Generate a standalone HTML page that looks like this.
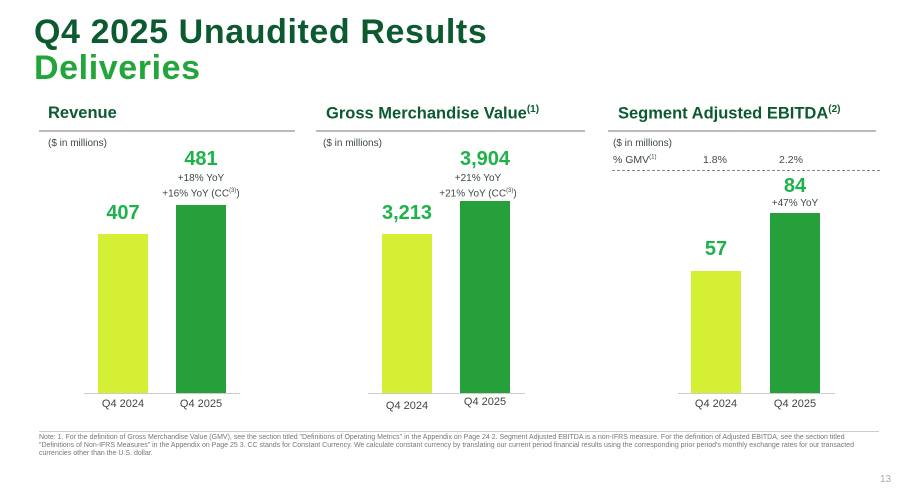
<!DOCTYPE html><html><head><style>
body{margin:0;width:903px;height:491px;background:#fff;position:relative;overflow:hidden;font-family:"Liberation Sans",sans-serif}
div{position:absolute}
.t{font-weight:bold;font-size:34px;left:34px;letter-spacing:0.6px}
.h{font-weight:bold;font-size:16.5px;color:#0c5a30;top:104px}
.hl{height:2px;background:#bbb;top:130px}
.sm{font-size:10px;color:#3d4a44}
.b1{background:#d4ef34}.b2{background:#25a03a}
.v{font-weight:bold;font-size:20px;color:#1db24a;text-align:center;width:100px}
.y{font-size:10px;color:#3d4a44;text-align:center;width:140px;line-height:13px}
.x{font-size:11px;color:#444;text-align:center;width:80px;top:398px}
.base{height:1px;background:#ccc;top:393px}
sup{font-size:6px}
</style></head><body>
<div class="t" style="top:13px;color:#0c5a30">Q4 2025 Unaudited Results</div>
<div class="t" style="top:49px;color:#22a53a">Deliveries</div>

<div class="h" style="left:48px">Revenue</div>
<div class="h" style="left:326px">Gross Merchandise Value<sup style="font-size:10px">(1)</sup></div>
<div class="h" style="left:618px">Segment Adjusted EBITDA<sup style="font-size:10px">(2)</sup></div>
<div class="hl" style="left:39px;width:256px"></div>
<div class="hl" style="left:316px;width:269px"></div>
<div class="hl" style="left:608px;width:268px"></div>
<div class="sm" style="left:48px;top:138px">($ in millions)</div>
<div class="sm" style="left:323px;top:138px">($ in millions)</div>
<div class="sm" style="left:613px;top:138px">($ in millions)</div>
<div class="sm" style="left:613px;top:154px;font-size:10.5px">% GMV<sup>(1)</sup></div>
<div class="sm" style="left:703px;top:154px;font-size:10.5px">1.8%</div>
<div class="sm" style="left:779px;top:154px;font-size:10.5px">2.2%</div>
<div style="left:612px;top:170px;width:268px;border-top:1px dashed #888"></div>

<div class="b1" style="left:98px;top:234px;width:50px;height:159px"></div>
<div class="b2" style="left:176px;top:205px;width:50px;height:188px"></div>
<div class="base" style="left:84px;width:156px"></div>
<div class="v" style="left:73px;top:202px">407</div>
<div class="v" style="left:151px;top:148px">481</div>
<div class="y" style="left:131px;top:172px">+18% YoY<br>+16% YoY (CC<sup>(3)</sup>)</div>
<div class="x" style="left:83px">Q4 2024</div>
<div class="x" style="left:161px">Q4 2025</div>

<div class="b1" style="left:382px;top:234px;width:50px;height:159px"></div>
<div class="b2" style="left:460px;top:201px;width:50px;height:192px"></div>
<div class="base" style="left:368px;width:157px"></div>
<div class="v" style="left:357px;top:202px">3,213</div>
<div class="v" style="left:435px;top:148px">3,904</div>
<div class="y" style="left:408px;top:172px">+21% YoY<br>+21% YoY (CC<sup>(3)</sup>)</div>
<div class="x" style="left:367px;top:400px">Q4 2024</div>
<div class="x" style="left:445px;top:396px">Q4 2025</div>

<div class="b1" style="left:691px;top:271px;width:50px;height:122px"></div>
<div class="b2" style="left:770px;top:213px;width:50px;height:180px"></div>
<div class="base" style="left:678px;width:157px"></div>
<div class="v" style="left:666px;top:238px">57</div>
<div class="v" style="left:745px;top:175px">84</div>
<div class="y" style="left:725px;top:197px">+47% YoY</div>
<div class="x" style="left:676px">Q4 2024</div>
<div class="x" style="left:755px">Q4 2025</div>

<div style="left:39px;top:431px;width:840px;border-top:1px solid #ccc"></div>
<div style="left:39px;top:434px;width:815px;font-size:7px;line-height:8px;color:#777">Note: 1. For the definition of Gross Merchandise Value (GMV), see the section titled "Definitions of Operating Metrics" in the Appendix on Page 24 2. Segment Adjusted EBITDA is a non-IFRS measure. For the definition of Adjusted EBITDA, see the section titled "Definitions of Non-IFRS Measures" in the Appendix on Page 25 3. CC stands for Constant Currency. We calculate constant currency by translating our current period financial results using the corresponding prior period's monthly exchange rates for our transacted currencies other than the U.S. dollar.</div>
<div style="left:880px;top:474px;font-size:10px;color:#aaa">13</div>
</body></html>
